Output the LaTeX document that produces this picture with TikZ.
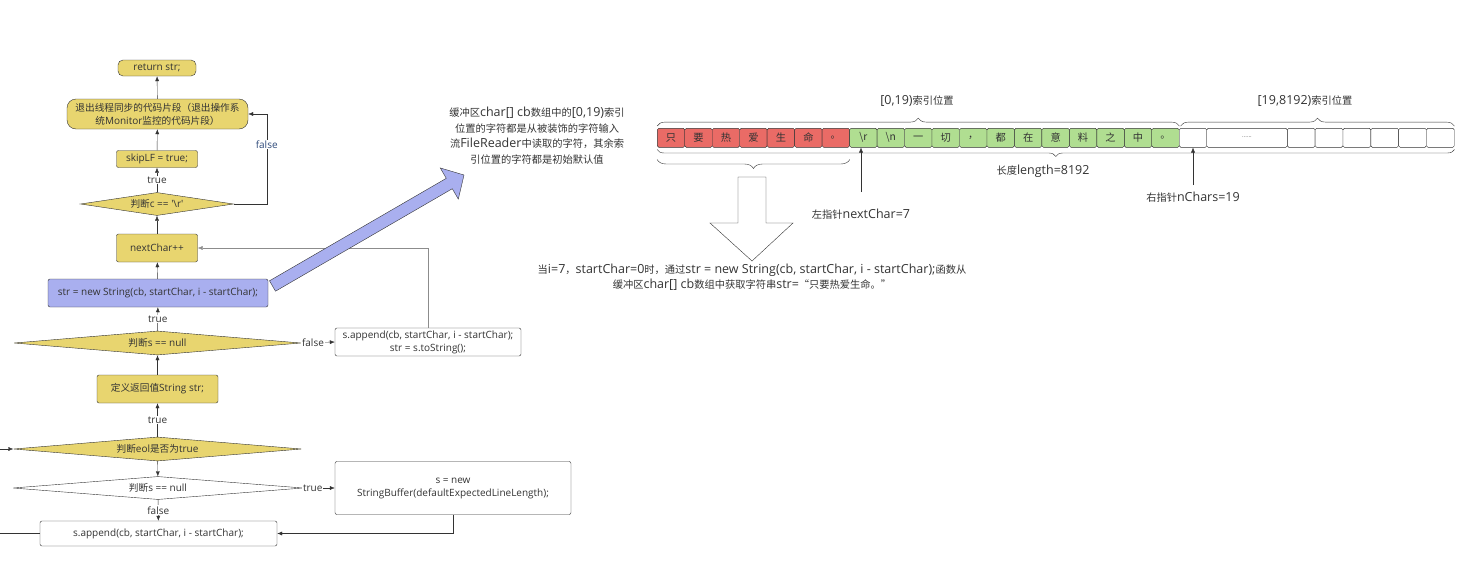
\documentclass[tikz,border=0pt]{standalone}
\usepackage{fontspec}
\setmainfont{Open Sans}
\newfontfamily\cjkflow{Noto Sans CJK SC}[Scale=0.965]
\newfontfamily\cjknote{Noto Sans CJK SC}[Scale=0.82]
\usetikzlibrary{shapes.geometric,arrows.meta,decorations.pathreplacing,calc}
\definecolor{flowyellow}{HTML}{E8D56F}
\definecolor{flowblue}{HTML}{A9AFEF}
\definecolor{cellred}{HTML}{EA6B66}
\definecolor{cellgreen}{HTML}{B0DE91}
\definecolor{ink}{HTML}{333333}
\definecolor{labelblue}{HTML}{2E4A7A}
\newcommand\flowfont{\fontsize{10}{13}\selectfont\let\zhfont\cjkflow}
\newcommand\notefont{\fontsize{12.5}{15.5}\selectfont\let\zhfont\cjknote}
\newcommand\zh[1]{{\zhfont #1}}
\tikzset{
  box/.style={draw=ink, rounded corners=2pt, inner sep=0pt, align=center, font=\flowfont, text=ink},
  ybox/.style={box, fill=flowyellow},
  decide/.style={diamond, draw=ink, inner sep=0pt, font=\flowfont, text=ink},
  arr/.style={draw=ink, -{Latex[length=5pt,width=4pt]}},
  lbl/.style={fill=white, inner sep=1pt, font=\flowfont, text=ink},
  note/.style={align=center, font=\notefont, text=ink, inner sep=0pt},
  cell/.style={draw=ink, rounded corners=1.5pt, minimum width=27.47pt, minimum height=19pt, inner sep=0pt, font=\notefont\cjknote, text=ink},
  bracetop/.style={draw=ink, decorate, decoration={brace, amplitude=#1}},
}
\begin{document}
\begin{tikzpicture}[x=1pt,y=-1pt]
    \useasboundingbox (0,0) rectangle (1464,562);
    % flow chart, bottom to top
    \node[ybox, rounded corners=5pt, minimum width=78pt, minimum height=16pt] (ret) at (157,68) {return str;};
    \node[ybox, rounded corners=9pt, minimum width=181pt, minimum height=30pt] (exit) at (157.5,114) {\zh{退出线程同步的代码片段（退出操作系}\\\zh{统}Monitor\zh{监控的代码片段）}};
    \node[ybox, minimum width=81pt, minimum height=17pt] (skip) at (157,159) {skipLF = true;};
    \node[decide, fill=flowyellow, shape aspect=7, minimum width=153pt, minimum height=23pt] (isr) at (157,204) {\zh{判断}c == \textquotesingle\textbackslash r\textquotesingle};
    \node[ybox, minimum width=81pt, minimum height=28pt] (next) at (157,248) {nextChar++};
    \node[box, fill=flowblue, minimum width=220pt, minimum height=28pt] (newstr) at (158,293) {str = new String(cb, startChar, i - startChar);};
    \node[decide, fill=flowyellow, shape aspect=12, minimum width=287pt, minimum height=24pt] (snull) at (157.5,343) {\zh{判断}s == null};
    \node[box, fill=white, minimum width=186pt, minimum height=28pt] (tostr) at (428,342) {s.append(cb, startChar, i - startChar);\\str = s.toString();};
    \node[ybox, minimum width=121pt, minimum height=28pt] (defstr) at (157.5,389) {\zh{定义返回值}String str;};
    \node[decide, fill=flowyellow, shape aspect=12, minimum width=288pt, minimum height=24pt] (eol) at (157.5,449) {\zh{判断}eol\zh{是否为}true};
    \node[decide, fill=white, shape aspect=12, minimum width=290pt, minimum height=23pt] (snull2) at (158,488) {\zh{判断}s == null};
    \node[box, fill=white, minimum width=236pt, minimum height=53pt] (sbuf) at (453,488) {s = new\\StringBuffer(defaultExpectedLineLength);};
    \node[box, fill=white, minimum width=237pt, minimum height=25pt] (append) at (158.5,533.5) {s.append(cb, startChar, i - startChar);};
    \coordinate (inL) at (0,449);
    \coordinate (outL) at (0,533.5);

    \draw[arr] (exit) -- (ret);
    \draw[arr] (skip) -- (exit);
    \draw[arr] (isr) -- node[lbl] {true} (skip);
    \draw[arr] (isr.east) -- ++(33,0) |- node[lbl, pos=.33, text=labelblue] {false} (exit.east);
    \draw[arr] (next) -- (isr);
    \draw[arr] (newstr) -- (next);
    \draw[arr] (snull) -- node[lbl] {true} (newstr);
    \draw[arr] (snull.east) -- node[lbl, pos=.35] {false} (tostr.west);
    \draw[arr, draw=black!45] (tostr.north) |- (next.east);
    \draw[arr] (defstr) -- (snull);
    \draw[arr] (eol) -- node[lbl] {true} (defstr);
    \draw[arr] (inL) -- (eol.west);
    \draw[arr] (eol) -- (snull2);
    \draw[arr] (snull2.east) -- node[lbl, pos=.3] {true} (sbuf.west);
    \draw[arr] (snull2) -- node[lbl] {false} (append);
    \draw[arr] (sbuf.south) |- (append.east);
    \draw[ink] (append.west) -- (outL);

    % block arrow to the buffer note
    \coordinate (tail) at (272.5,286);
    \coordinate (tip) at (464,175);
    \coordinate (head) at ($(tip)!17pt!(tail)$);
    \draw[ink, fill=flowblue] ($(tail)!6pt!90:(tip)$) -- ($(head)!6pt!-90:(tail)$) -- ($(head)!18pt!-90:(tail)$)
          -- (tip) -- ($(head)!18pt!90:(tail)$) -- ($(head)!6pt!90:(tail)$) -- ($(tail)!6pt!-90:(tip)$) -- cycle;
    \node[note] (buftext) at (537,135.5) {\zh{缓冲区}char[] cb\zh{数组中的}[0,19)\zh{索引}\\\zh{位置的字符都是从被装饰的字符输入}\\\zh{流}FileReader\zh{中读取的字符，其余索}\\\zh{引位置的字符都是初始默认值}};

    % char[] cb
    \foreach \ch [count=\i from 0] in {只,要,热,爱,生,命,。}
        \node[cell, fill=cellred] (c\i) at ({657.3+27.47*(\i+.5)},137.8) {\ch};
    \foreach \ch [count=\i from 7] in {\textbackslash r,\textbackslash n,一,切,，,都,在,意,料,之,中,。}
        \node[cell, fill=cellgreen] (c\i) at ({657.3+27.47*(\i+.5)},137.8) {\ch};
    \node[cell, fill=white] (c19) at (1193,137.8) {};
    \node[cell, fill=white, minimum width=80.6pt] (dots) at (1247,137.8) {\raisebox{1pt}{\scriptsize ......}};
    \foreach \i in {0,...,5}
        \node[cell, fill=white, minimum width=27.83pt] (e\i) at ({1287.3+27.83*(\i+.5)},137.8) {};

    \draw[bracetop=8pt] ([yshift=2pt]c0.north west) -- ([yshift=2pt]c18.north east);
    \draw[bracetop=8pt] ([xshift=1.5pt,yshift=2pt]c19.north west) -- ([yshift=2pt]e5.north east);
    \draw[bracetop=7pt] ([yshift=-2pt]e5.south east) -- ([yshift=-2pt]c0.south west);
    \draw[bracetop=9pt] ([yshift=-12pt]c6.south east) -- ([yshift=-12pt]c0.south west);
    \node[note] (range1) at (917,101) {[0,19)\zh{索引位置}};
    \node[note] (range2) at (1305,101) {[19,8192)\zh{索引位置}};
    \node[note] (length) at (1043,171) {\zh{长度}length=8192};

    % pointers
    \coordinate (lpbase) at (861,192);
    \coordinate (rpbase) at (1193,185);
    \draw[arr] (lpbase) -- (lpbase |- c7.south);
    \draw[arr] (rpbase) -- (c19.south);
    \node[note] (lptext) at (861,214) {\zh{左指针}nextChar=7};
    \node[note] (rptext) at (1193,197) {\zh{右指针}nChars=19};

    % result arrow
    \draw[ink, fill=white] (738,177) -- (766,177) -- (766,223) -- (793,223) -- (752,261) -- (710,223) -- (738,223) -- cycle;
    \node[note] (result) at (752,277) {\zh{当}i=7\zh{，}startChar=0\zh{时，通过}str = new String(cb, startChar, i - startChar);\zh{函数从}\\\zh{缓冲区}char[] cb\zh{数组中获取字符串}str=\zh{“只要热爱生命。”}};
\end{tikzpicture}
\end{document}
